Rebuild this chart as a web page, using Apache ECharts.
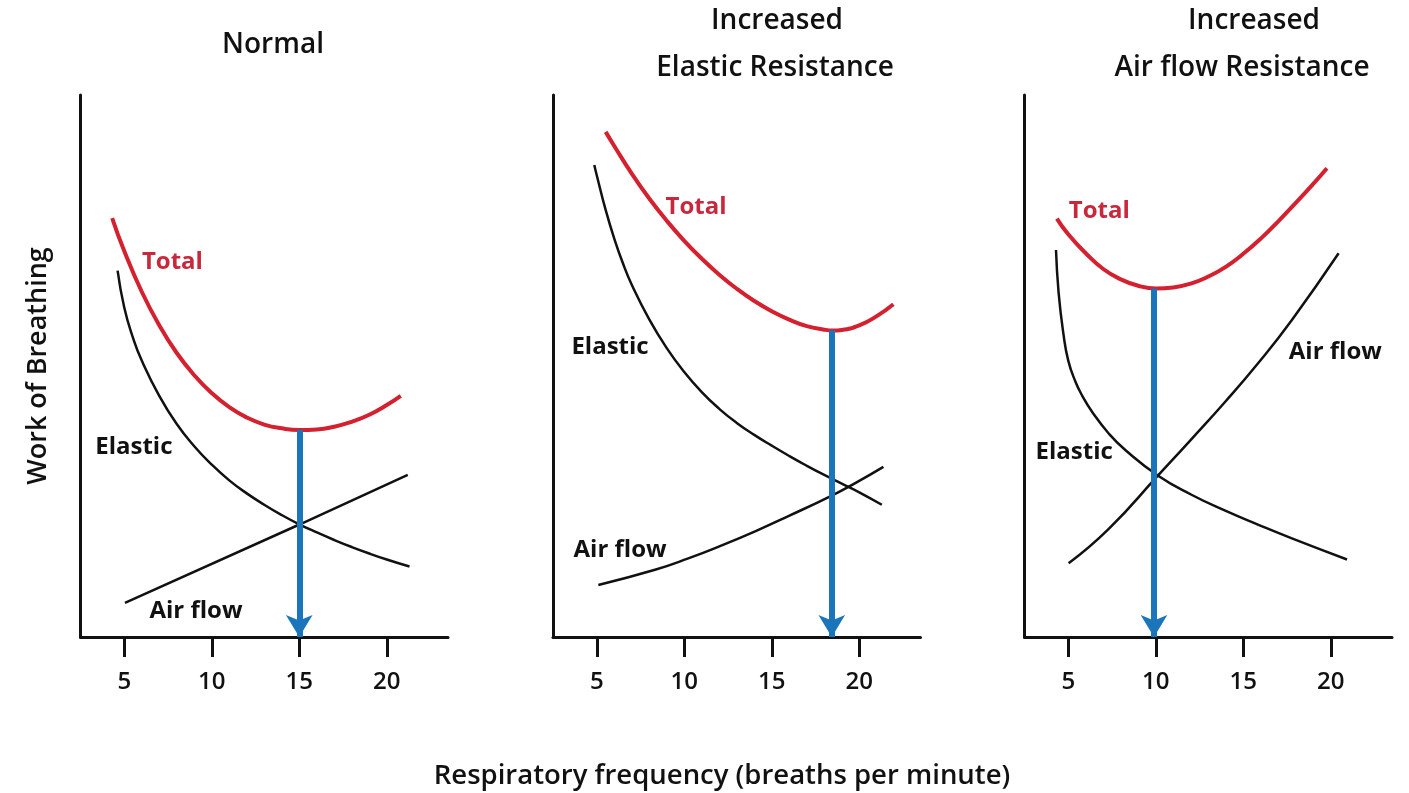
<!DOCTYPE html>
<html>
<head>
<meta charset="utf-8">
<script src="https://cdn.jsdelivr.net/npm/echarts@6/dist/echarts.min.js"></script>
<style>
  html, body { margin: 0; padding: 0; background: #ffffff; }
  #chart { width: 1409px; height: 793px; }
</style>
</head>
<body>
<div id="chart"></div>
<script>
// Work of breathing vs respiratory frequency, three conditions.
const panelTitles = [['Normal'], ['Increased', 'Elastic Resistance'], ['Increased', 'Air flow Resistance']];
const tickValues = [5, 10, 15, 20];
const xTitle = 'Respiratory frequency (breaths per minute)';
const yTitle = 'Work of Breathing';

// Normal
const normalTotalX   = [4.31, 5, 6, 7, 8, 9, 10, 11, 12, 13, 14, 15, 16, 17, 18, 19, 20, 20.8];
const normalTotalY   = [77.3, 71.2, 63.7, 57.5, 52.4, 48.3, 45.0, 42.4, 40.5, 39.2, 38.5, 38.2, 38.3, 38.8, 39.7, 41.0, 42.8, 44.5];
const normalElasticX = [4.62, 5, 5.5, 6, 7, 8, 9, 10, 11, 12, 13, 14, 15, 16, 17, 18, 19, 20, 21.3];
const normalElasticY = [67.6, 60.8, 55.2, 51.0, 44.5, 39.3, 35.2, 31.8, 28.9, 26.5, 24.4, 22.5, 20.8, 19.3, 17.9, 16.6, 15.4, 14.3, 13.0];
const normalAirX     = [5.04, 15.04, 21.2];
const normalAirY     = [6.3, 20.8, 29.9];

// Increased elastic resistance
const elasTotalX   = [5.51, 6, 7, 8, 9, 10, 11, 12, 13, 14, 15, 16, 17, 18, 18.5, 19, 20, 21, 21.95];
const elasTotalY   = [93.2, 90.6, 85.5, 80.9, 76.8, 73.1, 69.8, 66.85, 64.25, 62.0, 60.1, 58.55, 57.35, 56.7, 56.55, 56.65, 57.5, 59.2, 61.4];
const elasElasticX = [4.86, 5, 5.5, 6, 6.5, 7, 8, 9, 10, 11, 12, 13, 14, 15, 16, 17, 18, 19, 20, 21.29];
const elasElasticY = [87.1, 85.2, 78.9, 73.5, 68.9, 65.0, 58.6, 53.3, 48.9, 45.2, 42.1, 39.5, 37.3, 35.3, 33.4, 31.6, 29.9, 28.3, 26.7, 24.4];
const elasAirX     = [5.09, 8.33, 10.23, 12.14, 14.05, 15.95, 18.43, 19.77, 21.38];
const elasAirY     = [9.6, 12.4, 14.5, 16.9, 19.5, 22.3, 26.1, 28.4, 31.4];

// Increased air flow resistance
const airTotalX   = [4.35, 5, 6, 7, 8, 9, 10, 11, 12, 13, 14, 15, 16, 17, 18, 19, 19.78];
const airTotalY   = [77.2, 74.3, 70.8, 67.9, 66.0, 64.8, 64.3, 64.5, 65.2, 66.5, 68.3, 70.7, 73.5, 76.7, 80.1, 83.6, 86.5];
const airElasticX = [4.3, 4.45, 4.73, 5.0, 5.4, 5.8, 6.35, 7.3, 8.26, 10.16, 12.07, 13.97, 15.87, 17.78, 20.93];
const airElasticY = [71.4, 63.5, 55.8, 51.0, 47.2, 44.5, 41.6, 37.6, 34.5, 29.7, 26.2, 23.3, 20.7, 18.2, 14.3];
const airAirX     = [5.02, 7.3, 10.16, 12.07, 13.97, 15.87, 17.78, 20.45];
const airAirY     = [13.6, 19.9, 29.9, 36.6, 43.4, 50.6, 58.5, 70.8];

// Optimal frequency (minimum total work) per panel
const optimumX = [15, 18.43, 9.9];
const optimumY = [38.2, 56.6, 64.3];

// Curve name labels: [x, y, text]
const normalLabels = [[7.75, 69.2, 'Total'], [5.55, 35.1, 'Elastic'], [9.1, 4.8, 'Air flow']];
const elasLabels   = [[10.67, 79.3, 'Total'], [5.76, 53.5, 'Elastic'], [6.33, 16.1, 'Air flow']];
const airLabels    = [[6.77, 78.6, 'Total'], [5.34, 34.1, 'Elastic'], [20.26, 52.6, 'Air flow']];

const zip = (xs, ys) => xs.map((x, i) => [x, ys[i]]);

const panels = [
  { total: zip(normalTotalX, normalTotalY), elastic: zip(normalElasticX, normalElasticY), air: zip(normalAirX, normalAirY), labels: normalLabels },
  { total: zip(elasTotalX, elasTotalY), elastic: zip(elasElasticX, elasElasticY), air: zip(elasAirX, elasAirY), labels: elasLabels },
  { total: zip(airTotalX, airTotalY), elastic: zip(airElasticX, airElasticY), air: zip(airAirX, airAirY), labels: airLabels }
];

const RED = '#d3212f';
const LABEL_RED = '#c8283c';
const BLUE = '#1b75bb';
const INK = '#111111';
const FONT = 'Open Sans';

const gridLefts = [80.5, 553, 1024.5];
const grids = gridLefts.map(l => ({ left: l, top: 95, width: 367.5, height: 542 }));

const xAxes = grids.map((g, i) => ({
  type: 'value', gridIndex: i, min: 2.5, max: 23.5,
  axisLine: { show: true, lineStyle: { color: INK, width: 3 } },
  axisTick: { show: true, customValues: tickValues, length: 20, inside: false, lineStyle: { color: INK, width: 3 } },
  axisLabel: { show: true, customValues: tickValues, margin: 33, color: INK, fontSize: 24, fontWeight: 600, fontFamily: FONT },
  splitLine: { show: false }
}));

const yAxes = grids.map((g, i) => ({
  type: 'value', gridIndex: i, min: 0, max: 100,
  axisLine: { show: true, onZero: false, lineStyle: { color: INK, width: 3 } },
  axisTick: { show: false }, axisLabel: { show: false }, splitLine: { show: false },
  name: i === 0 ? yTitle : '', nameLocation: 'middle', nameGap: 29, nameRotate: 90,
  nameTextStyle: { color: INK, fontSize: 27, fontWeight: 600, fontFamily: FONT }
}));

const series = [];
panels.forEach((p, i) => {
  const base = { type: 'line', xAxisIndex: i, yAxisIndex: i, symbol: 'none', smooth: 0.5, silent: true, z: 3 };
  series.push(Object.assign({}, base, { data: p.elastic, lineStyle: { color: INK, width: 2.5 } }));
  series.push(Object.assign({}, base, { data: p.air, lineStyle: { color: INK, width: 2.5 } }));
  series.push(Object.assign({}, base, { data: p.total, lineStyle: { color: RED, width: 4 }, z: 4 }));
  series.push({
    type: 'line', xAxisIndex: i, yAxisIndex: i, data: [], silent: true, z: 5,
    markLine: {
      silent: true, symbol: ['none', 'arrow'], symbolSize: [20, 22],
      lineStyle: { color: BLUE, width: 6, type: 'solid' }, label: { show: false },
      data: [[{ coord: [optimumX[i], optimumY[i]] }, { coord: [optimumX[i], 0] }]]
    }
  });
  series.push({
    type: 'scatter', xAxisIndex: i, yAxisIndex: i, symbolSize: 0, silent: true, z: 6,
    data: p.labels.map(d => ({
      value: d,
      label: { color: d[2] === 'Total' ? LABEL_RED : INK }
    })),
    label: {
      show: true, position: 'inside', formatter: d => d.value[2],
      fontSize: 24, fontWeight: 'bold', fontFamily: FONT,
      textBorderWidth: 0, opacity: 1
    }
  });
});

const titleStyle = { color: INK, fontSize: 28, fontWeight: 600, fontFamily: FONT };
const titles = [
  { text: panelTitles[0][0], left: 268, top: 26, textAlign: 'center', textStyle: titleStyle },
  { text: panelTitles[1][0], left: 772, top: 2, textAlign: 'center', textStyle: titleStyle },
  { text: panelTitles[1][1], left: 770, top: 49, textAlign: 'center', textStyle: titleStyle },
  { text: panelTitles[2][0], left: 1249, top: 2, textAlign: 'center', textStyle: titleStyle },
  { text: panelTitles[2][1], left: 1237, top: 49, textAlign: 'center', textStyle: titleStyle },
  { text: xTitle, left: 717, top: 757, textAlign: 'center', textStyle: Object.assign({}, titleStyle, { fontSize: 27.5 }) }
];

const chart = echarts.init(document.getElementById('chart'), null, { renderer: 'canvas' });
chart.setOption({
  backgroundColor: '#ffffff',
  animation: false,
  title: titles,
  grid: grids,
  xAxis: xAxes,
  yAxis: yAxes,
  series: series
});
</script>
</body>
</html>
